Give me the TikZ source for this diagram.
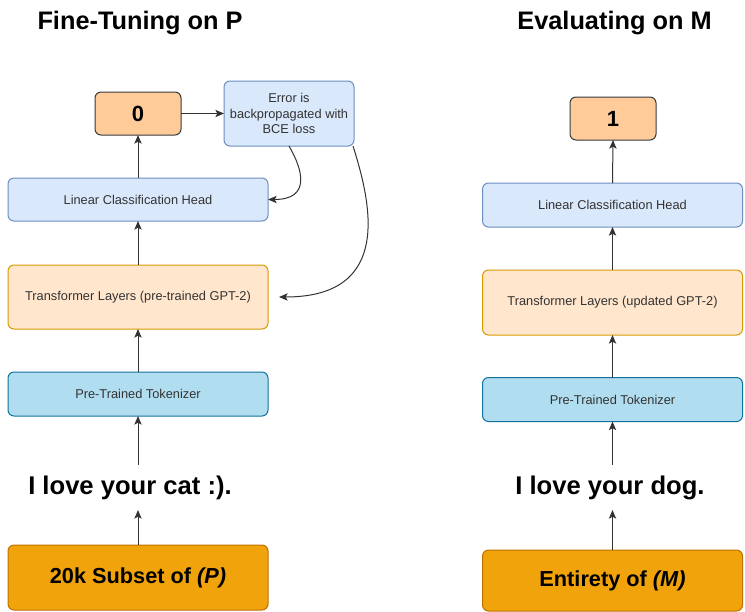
\documentclass[tikz,border=0pt]{standalone}
\usepackage{fontspec}
\setmainfont{Liberation Sans}
\usetikzlibrary{arrows.meta}
\definecolor{lnk}{HTML}{333333}
\definecolor{txtc}{HTML}{333333}
\definecolor{zerof}{HTML}{FFCC99}\definecolor{zerod}{HTML}{36393D}
\definecolor{bluef}{HTML}{DAE8FC}\definecolor{blued}{HTML}{6C8EBF}
\definecolor{orgf}{HTML}{FFE6CC}\definecolor{orgd}{HTML}{D79B00}
\definecolor{tokf}{HTML}{B1DDF0}\definecolor{tokd}{HTML}{10739E}
\definecolor{dsf}{HTML}{F0A30A}\definecolor{dsd}{HTML}{BD7000}
\tikzset{
  box/.style={draw, rounded corners=4.5pt, line width=0.75pt, outer sep=0pt, inner sep=1pt, align=center,
    text=txtc, font=\fontsize{9.6}{11.7}\selectfont},
  wide/.style={box, minimum width=195pt},
  outbox/.style={box, fill=zerof, draw=zerod, minimum width=64.5pt, minimum height=32.25pt, text=black,
    font=\fontsize{16.5}{19}\selectfont\bfseries},
  bluebox/.style={wide, fill=bluef, draw=blued},
  orgbox/.style={wide, fill=orgf, draw=orgd, minimum height=48.4pt},
  tokbox/.style={wide, fill=tokf, draw=tokd, minimum height=33pt},
  dsbox/.style={wide, fill=dsf, draw=dsd, text=black, font=\fontsize{16.3}{19}\selectfont\bfseries},
  sent/.style={inner sep=0pt, outer sep=0pt, minimum height=33.75pt, font=\fontsize{19.2}{22}\selectfont\bfseries},
  ttl/.style={inner sep=0pt, font=\fontsize{19}{22}\selectfont\bfseries},
  arr/.style={draw=lnk, line width=0.75pt, -{Stealth[length=6.5pt,width=5.5pt,inset=1.5pt]}}
}
\begin{document}
\begin{tikzpicture}[x=0.75pt,y=-0.75pt]
\useasboundingbox (0,0) rectangle (745,611);
% titles
\node[ttl] (t1) at (140,23) {Fine-Tuning on P};
\node[ttl] (t2) at (614.5,23) {Evaluating on M};
% left column
\node[outbox] (zero) at (138,113.5) {0};
\node[box, fill=bluef, draw=blued, minimum width=97.5pt, minimum height=48.75pt] (err) at (289,113.5)
  {Error is\\backpropagated with\\BCE loss};
\node[bluebox, minimum height=32.25pt] (lch) at (138,199.5) {Linear Classification Head};
\node[orgbox, minimum height=48pt] (tl) at (138,297) {Transformer Layers (pre-trained GPT-2)};
\node[tokbox] (tok) at (138,394) {Pre-Trained Tokenizer};
\node[sent] (s1) at (130,487.5) {I love your cat :).};
\node[dsbox, minimum height=48.75pt] (ds1) at (138,577.5) {20k Subset of \textit{(P)}};
% right column
\node[outbox] (one) at (613,118.5) {1};
\node[bluebox, minimum height=33pt] (lch2) at (612.5,205) {Linear Classification Head};
\node[orgbox, minimum height=48.75pt] (tl2) at (612.5,302.5) {Transformer Layers (updated GPT-2)};
\node[tokbox] (tok2) at (612.5,399.5) {Pre-Trained Tokenizer};
\node[sent] (s2) at (610,487.5) {I love your dog.};
\node[dsbox, minimum height=45.75pt] (ds2) at (612.5,580.5) {Entirety of \textit{(M)}};
% left arrows
\draw[arr] (ds1.north) -- (ds1.north |- s1.south);
\draw[arr] (s1.north -| tok.south) -- (tok.south);
\draw[arr] (tok.north) -- (tl.south);
\draw[arr] (tl.north) -- (lch.south);
\draw[arr] (lch.north) -- (zero.south);
\draw[arr] (zero.east) -- (err.west);
\coordinate (errA) at ([xshift=-0.75pt]err.south east);
\coordinate (tlin) at ([xshift=8.25pt]tl.east);
\draw[arr] (err.south) .. controls +(14,24) and +(43,0) .. (lch.east);
\draw[arr] (errA) .. controls +(17,54) and +(116,0) .. (tlin);
% right arrows
\draw[arr] (ds2.north) -- (ds2.north |- s2.south);
\draw[arr] (s2.north -| tok2.south) -- (tok2.south);
\draw[arr] (tok2.north) -- (tl2.south);
\draw[arr] (tl2.north) -- (lch2.south);
\draw[arr] (lch2.north) -- (one.south);
\end{tikzpicture}
\end{document}
